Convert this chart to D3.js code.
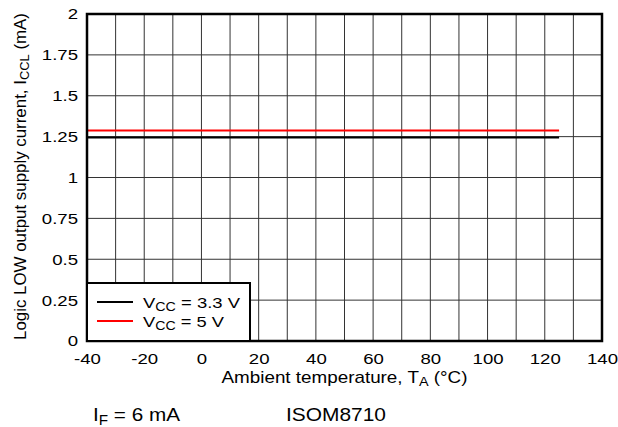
<!DOCTYPE html>
<html>
<head>
<meta charset="utf-8">
<script src="https://cdn.jsdelivr.net/npm/d3@7"></script>
<style>
  body { margin: 0; background: #fff; }
  svg { display: block; font-family: "Liberation Sans", Arial, sans-serif; }
</style>
</head>
<body>
<svg id="chart" width="618" height="427"></svg>
<script>
// temperatures (°C) and supply current (mA)
const temps = [-40, -20, 0, 20, 40, 60, 80, 100, 125];
const icc33 = [1.245, 1.245, 1.245, 1.245, 1.245, 1.245, 1.245, 1.245, 1.245];
const icc5 = [1.288, 1.288, 1.288, 1.288, 1.288, 1.288, 1.288, 1.288, 1.288];
const xTicks = [-40, -20, 0, 20, 40, 60, 80, 100, 120, 140];
const yTicks = [0, 0.25, 0.5, 0.75, 1, 1.25, 1.5, 1.75, 2];
const series = [
  { label: '3.3 V', values: icc33, color: '#000', len: 97 },
  { label: '5 V', values: icc5, color: '#ff0000', len: 81 }
];

const svg = d3.select('#chart');
const margin = { left: 87, top: 14, right: 16, bottom: 86 };
const width = 618 - margin.left - margin.right;
const height = 427 - margin.top - margin.bottom;

const x = d3.scaleLinear().domain([-40, 140]).range([0, width]);
const y = d3.scaleLinear().domain([0, 2]).range([height, 0]);

const g = svg.append('g').attr('transform', `translate(${margin.left},${margin.top})`);

// grid, every 10 °C and every 0.25 mA
g.append('g').selectAll('line').data(d3.range(-30, 140, 10))
  .join('line')
  .attr('x1', d => x(d)).attr('x2', d => x(d))
  .attr('y1', 0).attr('y2', height)
  .attr('stroke', '#333').attr('stroke-width', 1);
g.append('g').selectAll('line').data(yTicks.slice(1, -1))
  .join('line')
  .attr('x1', 0).attr('x2', width)
  .attr('y1', d => y(d)).attr('y2', d => y(d))
  .attr('stroke', '#333').attr('stroke-width', 1);

// tick labels (the source font is a bit wide, so stretch them)
const xAxis = g.append('g')
  .attr('transform', `translate(0,${height})`)
  .call(d3.axisBottom(x).tickValues(xTicks).tickSize(0).tickPadding(12).tickFormat(d => String(d)));
const yAxis = g.append('g')
  .call(d3.axisLeft(y).tickValues(yTicks).tickSize(0).tickPadding(7.5).tickFormat(d => String(d)));
[xAxis, yAxis].forEach(a => {
  a.select('.domain').remove();
  a.selectAll('text')
    .attr('font-size', 15.5).attr('fill', '#000')
    .attr('font-family', '"Liberation Sans", Arial, sans-serif')
    .attr('transform', 'scale(1.2,1)');
});

// data lines
const line = d3.line().x((d, i) => x(temps[i])).y(d => y(d));
g.append('g').selectAll('path').data(series)
  .join('path')
  .attr('d', d => line(d.values))
  .attr('fill', 'none')
  .attr('stroke', d => d.color)
  .attr('stroke-width', 2);

// plot border
g.append('rect')
  .attr('width', width).attr('height', height)
  .attr('fill', 'none').attr('stroke', '#000').attr('stroke-width', 2.5);

// legend
const lg = g.append('g').attr('transform', `translate(0,${height - 58})`);
lg.append('rect')
  .attr('width', 163).attr('height', 58)
  .attr('fill', '#fff').attr('stroke', '#000').attr('stroke-width', 2);
const items = lg.selectAll('g.item').data(series).join('g')
  .attr('class', 'item')
  .attr('transform', (d, i) => `translate(0,${19 + i * 19})`);
items.append('line')
  .attr('x1', 10).attr('x2', 46)
  .attr('stroke', d => d.color).attr('stroke-width', 2);
const lt = items.append('text')
  .attr('x', 56).attr('y', 5.5).attr('font-size', 15.5)
  .attr('textLength', d => d.len).attr('lengthAdjust', 'spacingAndGlyphs');
lt.append('tspan').text('V');
lt.append('tspan').attr('font-size', 12).attr('dy', 3.5).text('CC');
lt.append('tspan').attr('dy', -3.5).text(d => ' = ' + d.label);

// x title
const xt = svg.append('text')
  .attr('x', margin.left + width / 2).attr('y', 382.5)
  .attr('text-anchor', 'middle').attr('font-size', 17)
  .attr('textLength', 246).attr('lengthAdjust', 'spacingAndGlyphs');
xt.append('tspan').text('Ambient temperature, T');
xt.append('tspan').attr('font-size', 13).attr('dy', 3).text('A');
xt.append('tspan').attr('dy', -3).text(' (°C)');

// y title
const yt = svg.append('text')
  .attr('transform', `translate(26,${margin.top + height / 2 - 1}) rotate(-90)`)
  .attr('text-anchor', 'middle').attr('font-size', 17)
  .attr('textLength', 327).attr('lengthAdjust', 'spacingAndGlyphs');
yt.append('tspan').text('Logic LOW output supply current, I');
yt.append('tspan').attr('font-size', 13).attr('dy', 3).text('CCL');
yt.append('tspan').attr('dy', -3).text(' (mA)');

// notes under the chart
const n1 = svg.append('text').attr('x', 93).attr('y', 420.5).attr('font-size', 19)
  .attr('textLength', 87).attr('lengthAdjust', 'spacingAndGlyphs');
n1.append('tspan').text('I');
n1.append('tspan').attr('font-size', 14).attr('dy', 4).text('F');
n1.append('tspan').attr('dy', -4).text(' = 6 mA');
svg.append('text').attr('x', 286).attr('y', 420.5).attr('font-size', 19)
  .attr('textLength', 100).attr('lengthAdjust', 'spacingAndGlyphs')
  .text('ISOM8710');
</script>
</body>
</html>
